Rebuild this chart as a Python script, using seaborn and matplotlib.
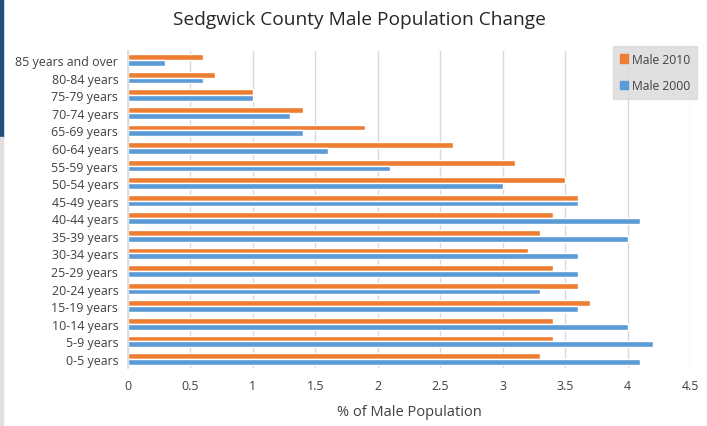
import matplotlib
matplotlib.use("Agg")
import matplotlib.pyplot as plt
import matplotlib.patches as mpatches
import seaborn as sns
import pandas as pd

categories = ["85 years and over", "80-84 years", "75-79 years", "70-74 years",
              "65-69 years", "60-64 years", "55-59 years", "50-54 years",
              "45-49 years", "40-44 years", "35-39 years", "30-34 years",
              "25-29 years", "20-24 years", "15-19 years", "10-14 years",
              "5-9 years", "0-5 years"]
male_2010 = [0.6, 0.7, 1.0, 1.4, 1.9, 2.6, 3.1, 3.5, 3.6, 3.4, 3.3, 3.2, 3.4, 3.6, 3.7, 3.4, 3.4, 3.3]
male_2000 = [0.3, 0.6, 1.0, 1.3, 1.4, 1.6, 2.1, 3.0, 3.6, 4.1, 4.0, 3.6, 3.6, 3.3, 3.6, 4.0, 4.2, 4.1]
series = ["Male 2010", "Male 2000"]
xticks = [0, 0.5, 1, 1.5, 2, 2.5, 3, 3.5, 4, 4.5]

df = pd.DataFrame({
    "age": categories * 2,
    "value": male_2010 + male_2000,
    "series": [series[0]] * len(categories) + [series[1]] * len(categories),
})

sns.set_theme(style="white")
plt.rcParams["font.family"] = ["Open Sans", "DejaVu Sans"]

fig = plt.figure(figsize=(7.07, 4.27), dpi=100)
ax = fig.add_axes([0.181, 0.1363, 0.795, 0.7415])

palette = {"Male 2010": "#ED7D31", "Male 2000": "#5B9BD5"}
sns.barplot(data=df, y="age", x="value", hue="series", order=categories,
            hue_order=series, palette=palette, orient="h", width=0.66,
            saturation=1, ax=ax, legend=False)

ax.set_xlim(0, 4.5)
ax.set_xticks(xticks)
ax.set_xticklabels(["0", "0.5", "1", "1.5", "2", "2.5", "3", "3.5", "4", "4.5"])
ax.grid(axis="x", color="#d9d9d9", linewidth=1)
ax.set_axisbelow(True)
for s in ["top", "right", "bottom"]:
    ax.spines[s].set_visible(False)
ax.spines["left"].set_color("#d9d9d9")
ax.tick_params(axis="both", length=0, labelsize=8.9, colors="#404040", pad=7)
ax.tick_params(axis="x", pad=8)
ax.set_ylabel("")
ax.set_xlabel("% of Male Population", fontsize=10.5, color="#404040", labelpad=9)

fig.suptitle("Sedgwick County Male Population Change", x=0.508, y=0.975,
             fontsize=13.8, color="#262626")

handles = [mpatches.Patch(color=palette[s], label=s) for s in series]
leg = fig.legend(handles=handles, loc="upper right", bbox_to_anchor=(0.995, 0.905),
                 fontsize=8.7, frameon=True, fancybox=False, handlelength=0.7,
                 handleheight=0.7, handletextpad=0.3, labelspacing=1.1,
                 borderpad=0.6, labelcolor="#404040")
leg.get_frame().set_facecolor("#d9d9d9")
leg.get_frame().set_edgecolor("#d9d9d9")

fig.patches.append(mpatches.Rectangle((0, 1 - 138 / 427), 3 / 707, 138 / 427,
                                      transform=fig.transFigure, color="#1f4e79", zorder=5))
fig.patches.append(mpatches.Rectangle((0, 0), 3 / 707, 1 - 138 / 427,
                                      transform=fig.transFigure, color="#e0e0e0", zorder=5))

fig.savefig("out.png", dpi=100)
